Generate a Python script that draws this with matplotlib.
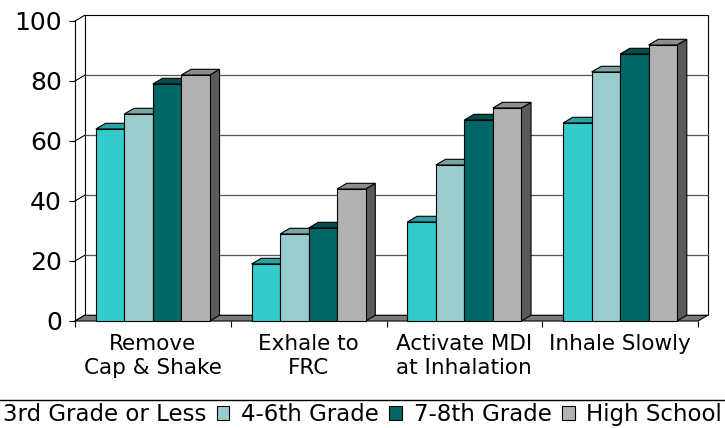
import matplotlib
matplotlib.use("Agg")
import matplotlib.pyplot as plt
from matplotlib.lines import Line2D
from matplotlib.patches import Polygon, Rectangle

# Survey results (% of students completing each inhaler step)
categories = ["Remove\nCap & Shake", "Exhale to\nFRC", "Activate MDI\nat Inhalation", "Inhale Slowly"]
series_names = ["3rd Grade or Less", "4-6th Grade", "7-8th Grade", "High School"]
grade_3_or_less = [64, 19, 33, 66]
grade_4_6 = [69, 29, 52, 83]
grade_7_8 = [79, 31, 67, 89]
high_school = [82, 44, 71, 92]
y_ticks = [0, 20, 40, 60, 80, 100]

series_values = [grade_3_or_less, grade_4_6, grade_7_8, high_school]
front_colors = ["#33CCCC", "#99CCCC", "#006666", "#B2B2B2"]
top_colors = ["#29A3A3", "#7AA3A3", "#004F4F", "#8C8C8C"]
side_colors = ["#1F7A7A", "#5C7A7A", "#003B3B", "#5A5A5A"]

plt.rcParams["font.family"] = ["DejaVu Sans"]

fig = plt.figure(figsize=(7.25, 4.28), dpi=100)
ax = fig.add_axes([75 / 725, 107 / 428, 623 / 725, 300 / 428])
n_cat = len(categories)
ax.set_xlim(0, n_cat)
ax.set_ylim(0, 100)
for sp in ax.spines.values():
    sp.set_visible(False)
ax.patch.set_visible(False)

# pseudo-3D depth offsets in data units
DX, DY = 0.062, 1.9
BAR_W = 0.183
n_ser = len(series_values)
left_pad = (1 - n_ser * BAR_W) / 2
EDGE = dict(edgecolor="black", linewidth=0.8, clip_on=False, joinstyle="miter")

# back wall
ax.add_patch(Polygon([(DX, DY), (n_cat + DX, DY), (n_cat + DX, 100 + DY), (DX, 100 + DY)],
                     closed=True, facecolor="white", zorder=1, **EDGE))
# gridlines on back wall and left side wall
for v in y_ticks[1:-1]:
    ax.plot([DX, n_cat + DX], [v + DY, v + DY], color="#555555", lw=0.9, zorder=1.5, clip_on=False)
for v in y_ticks:
    ax.plot([0, DX], [v, v + DY], color="black", lw=0.8, zorder=1.5, clip_on=False)
ax.plot([0, 0], [0, 100], color="black", lw=0.8, zorder=1.5, clip_on=False)

# floor
ax.add_patch(Polygon([(0, 0), (n_cat, 0), (n_cat + DX, DY), (DX, DY)],
                     closed=True, facecolor="#7A7A7A", zorder=2, **EDGE))

# bars
z = 3
for ci in range(n_cat):
    for si, vals in enumerate(series_values):
        v = vals[ci]
        x0 = ci + left_pad + si * BAR_W
        x1 = x0 + BAR_W
        ax.add_patch(Polygon([(x1, 0), (x1 + DX, DY), (x1 + DX, v + DY), (x1, v)],
                             closed=True, facecolor=side_colors[si], zorder=z, **EDGE))
        ax.add_patch(Polygon([(x0, v), (x1, v), (x1 + DX, v + DY), (x0 + DX, v + DY)],
                             closed=True, facecolor=top_colors[si], zorder=z, **EDGE))
        ax.add_patch(Rectangle((x0, 0), BAR_W, v, facecolor=front_colors[si], zorder=z, **EDGE))
        z += 0.01

# axes ticks and labels
ax.set_yticks(y_ticks)
ax.set_yticklabels([str(t) for t in y_ticks])
ax.tick_params(axis="y", labelsize=18, length=4.5, width=0.8, pad=5, colors="black")
ax.set_xticks([i + 0.5 for i in range(n_cat)])
ax.set_xticklabels(categories, fontsize=15.5, linespacing=1.25)
ax.set_xticks(list(range(n_cat + 1)), minor=True)
ax.tick_params(axis="x", which="major", length=0, pad=9)
ax.tick_params(axis="x", which="minor", length=4, width=0.8)

# legend strip along the bottom, with its top border line
fig.add_artist(Line2D([0, 1], [28 / 428, 28 / 428], transform=fig.transFigure,
                      color="black", lw=1.0))
handles = [Rectangle((0, 0), 1, 1, facecolor=c, edgecolor="black", linewidth=0.8) for c in front_colors]
leg = fig.legend(handles, series_names, loc="upper right", bbox_to_anchor=(722 / 725, 25 / 428),
                 ncol=4, fontsize=16.5, frameon=False, borderaxespad=0, borderpad=0,
                 handlelength=0.55, handleheight=0.55, handletextpad=0.5, columnspacing=0.47)

fig.savefig("out.png", dpi=100)
